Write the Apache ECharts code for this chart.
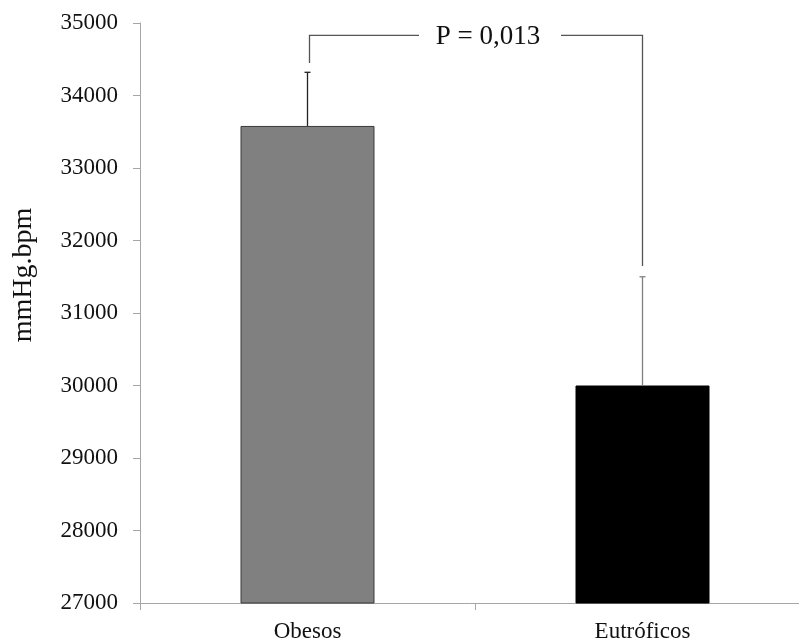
<!DOCTYPE html>
<html>
<head>
<meta charset="utf-8">
<script src="https://cdn.jsdelivr.net/npm/echarts@6/dist/echarts.min.js"></script>
<style>
html,body{margin:0;padding:0;background:#fff;}
#chart{width:799px;height:642px;}
</style>
</head>
<body>
<div id="chart"></div>
<script>
var categories = ['Obesos', 'Eutróficos'];
var means = [33580, 30000];
var upperErrors = [34320, 31500];
var barColors = ['#808080', '#000000'];
var errorColors = ['#222222', '#808080'];
var yTicks = { min: 27000, max: 35000, interval: 1000 };
var yTitle = 'mmHg.bpm';
var bracket = { level: 34830, leftEnd: 34450, rightEnd: 31650, label: 'P = 0,013' };

var FONT = '"Liberation Serif", "Times New Roman", serif';
var chart = echarts.init(document.getElementById('chart'));

chart.setOption({
  animation: false,
  backgroundColor: '#ffffff',
  grid: { left: 140, top: 23, height: 580, width: 670, containLabel: false, outerBoundsMode: 'none' },
  graphic: [
    {
      type: 'text',
      x: 24, y: 275,
      rotation: Math.PI / 2,
      style: { text: yTitle, align: 'center', verticalAlign: 'middle', fontFamily: FONT, fontSize: 28, fill: '#111' }
    }
  ],
  xAxis: {
    type: 'category',
    data: categories,
    axisLine: { show: true, lineStyle: { color: '#a6a6a6', width: 1 } },
    axisTick: { show: true, inside: false, length: 7, lineStyle: { color: '#a6a6a6' } },
    axisLabel: { fontFamily: FONT, fontSize: 23, color: '#111', margin: 17 },
    splitLine: { show: false }
  },
  yAxis: {
    type: 'value',
    min: yTicks.min,
    max: yTicks.max,
    interval: yTicks.interval,
    axisLine: { show: true, lineStyle: { color: '#a6a6a6', width: 1 } },
    axisTick: { show: true, inside: false, length: 7, lineStyle: { color: '#a6a6a6' } },
    axisLabel: { fontFamily: FONT, fontSize: 23, color: '#111', margin: 22, formatter: function (v) { return String(v); } },
    splitLine: { show: false }
  },
  series: [
    {
      type: 'bar',
      barWidth: '40%',
      data: means.map(function (v, i) {
        return {
          value: v,
          itemStyle: { color: barColors[i], borderColor: i === 0 ? '#3a3a3a' : '#000', borderWidth: 1 }
        };
      }),
      z: 2
    },
    {
      type: 'custom',
      z: 3,
      data: means.map(function (v, i) { return [i, v, upperErrors[i]]; }),
      renderItem: function (params, api) {
        var i = api.value(0);
        var p0 = api.coord([i, api.value(1)]);
        var p1 = api.coord([i, api.value(2)]);
        var c = errorColors[params.dataIndex];
        return {
          type: 'group',
          children: [
            { type: 'line', shape: { x1: p0[0], y1: p0[1], x2: p1[0], y2: p1[1] }, style: { stroke: c, lineWidth: 1.3 } },
            { type: 'line', shape: { x1: p1[0] - 3, y1: p1[1], x2: p1[0] + 3, y2: p1[1] }, style: { stroke: c, lineWidth: 1.3 } }
          ]
        };
      }
    },
    {
      type: 'custom',
      z: 4,
      data: [[0, 1, bracket.level, bracket.leftEnd, bracket.rightEnd]],
      renderItem: function (params, api) {
        var a = api.coord([api.value(0), api.value(2)]);
        var b = api.coord([api.value(1), api.value(2)]);
        var aEnd = api.coord([api.value(0), api.value(3)]);
        var bEnd = api.coord([api.value(1), api.value(4)]);
        var xl = a[0] + 2, xr = b[0];
        var y = a[1];
        var mid = (xl + xr) / 2 + 14;
        var gap = 71;
        var st = { stroke: '#555555', lineWidth: 1.3, fill: null };
        return {
          type: 'group',
          children: [
            { type: 'polyline', shape: { points: [[xl, aEnd[1]], [xl, y], [mid - gap, y]] }, style: st },
            { type: 'polyline', shape: { points: [[mid - gap + 142, y], [xr, y], [xr, bEnd[1]]] }, style: st },
            { type: 'text', style: { text: bracket.label, x: mid - 2, y: y + 2, align: 'center', verticalAlign: 'middle', fontFamily: FONT, fontSize: 27, fill: '#111' } }
          ]
        };
      }
    }
  ]
});
</script>
</body>
</html>
